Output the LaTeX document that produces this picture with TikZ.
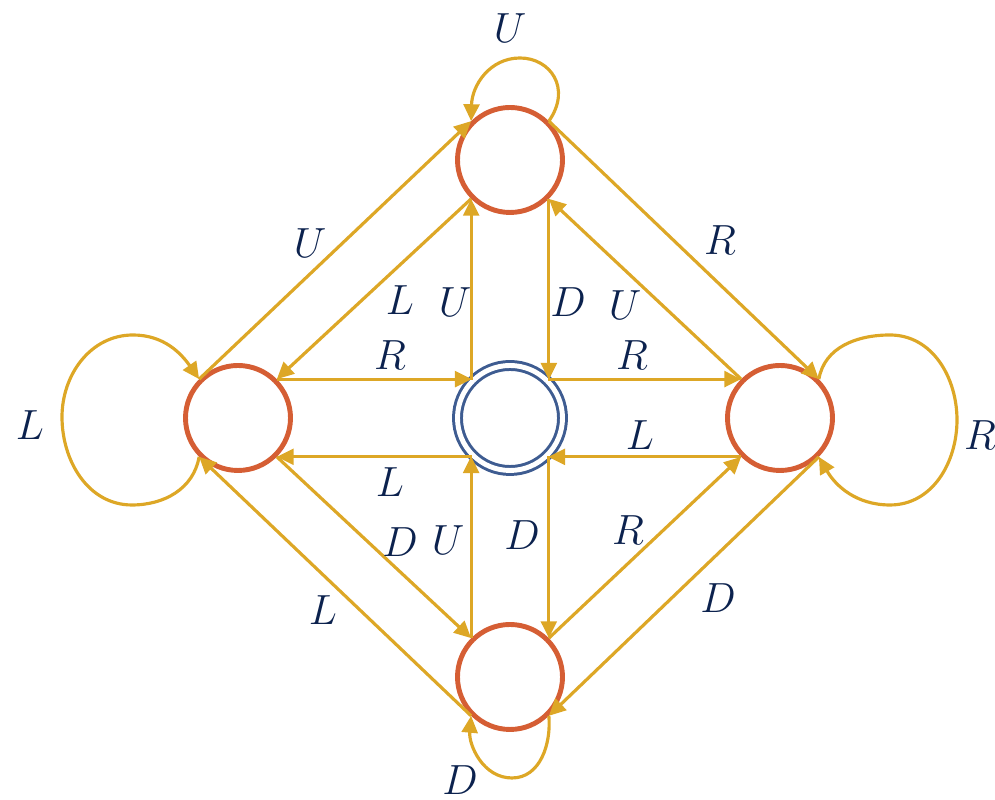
\documentclass[tikz,border=0pt]{standalone}
\usepackage{tikz}
\usetikzlibrary{arrows.meta}

\definecolor{gold}{RGB}{221,167,38}
\definecolor{rust}{RGB}{213,94,52}
\definecolor{slate}{RGB}{62,92,145}
\definecolor{navy}{RGB}{12,34,78}

\begin{document}
\begin{tikzpicture}[
  state/.style={circle, draw=rust, line width=1.4pt, minimum size=1.05cm, inner sep=0pt},
  start/.style={circle, draw=slate, line width=0.85pt, double, double distance=1.4pt, minimum size=1.05cm, inner sep=0pt},
  trans/.style={draw=gold, line width=0.9pt, -{Triangle[length=4.8pt, width=4.5pt]}},
  lbl/.style={text=navy, font=\fontsize{13}{15}\selectfont, inner sep=1pt}
]
  \useasboundingbox (0,0) rectangle (9.95,8);
  % states
  \node[state] (T) at (5.10,6.40) {};
  \node[state] (L) at (2.38,3.82) {};
  \node[state] (R) at (7.80,3.82) {};
  \node[state] (B) at (5.10,1.23) {};
  \node[start] (C) at (5.10,3.82) {};

  % outer square
  \draw[trans] (L.north west) -- (T.north west);
  \draw[trans] (T.north east) -- (R.north east);
  \draw[trans] (R.south east) -- (B.south east);
  \draw[trans] (B.south west) -- (L.south west);
  % inner square
  \draw[trans] (T.south west) -- (L.north east);
  \draw[trans] (R.north west) -- (T.south east);
  \draw[trans] (L.south east) -- (B.north west);
  \draw[trans] (B.north east) -- (R.south west);
  % centre
  \draw[trans] (T.south west |- C.north west) -- (T.south west);
  \draw[trans] (T.south east) -- (T.south east |- C.north east);
  \draw[trans] (L.north east) -- (C.north west |- L.north east);
  \draw[trans] (C.north east |- R.north west) -- (R.north west);
  \draw[trans] (R.south west) -- (C.south east |- R.south west);
  \draw[trans] (C.south west |- L.south east) -- (L.south east);
  \draw[trans] (B.north east |- C.south east) -- (B.north east);
  \draw[trans] (B.north west) -- (B.north west |- C.south west);
  % self loops
  \draw[trans] (T.north east) .. controls (5.72,7.12) and (5.50,7.42) .. (5.20,7.42)
                              .. controls (4.90,7.42) and (4.72,7.15) .. (T.north west);
  \draw[trans] (L.south west) to[out=-100, in=0] (1.32,2.95) to[out=180, in=-90] (0.62,3.83)
                              to[out=90, in=180] (1.33,4.65) to[out=0, in=125] (L.north west);
  \draw[trans] (R.north east) to[out=80, in=180] (8.90,4.65) to[out=0, in=90] (9.57,3.80)
                              to[out=-90, in=0] (8.90,2.95) to[out=180, in=-60] (R.south east);
  \draw[trans] (B.south east) to[out=-85, in=0] (5.12,0.22) to[out=180, in=-95] (B.south west);

  % labels
  \node[lbl] (lt) at (5.10,7.72) {$U$};
  \node[lbl] (l1) at (3.10,5.57) {$U$};
  \node[lbl] (l2) at (7.20,5.60) {$R$};
  \node[lbl] (l3) at (4.00,5.00) {$L$};
  \node[lbl] (l4) at (4.55,4.98) {$U$};
  \node[lbl] (l5) at (5.68,4.98) {$D$};
  \node[lbl] (l6) at (6.25,4.95) {$U$};
  \node[lbl] (l7) at (3.90,4.45) {$R$};
  \node[lbl] (l8) at (6.32,4.45) {$R$};
  \node[lbl] (ll) at (0.30,3.75) {$L$};
  \node[lbl] (lr) at (9.80,3.65) {$R$};
  \node[lbl] (l9) at (6.40,3.65) {$L$};
  \node[lbl] (l10) at (3.90,3.18) {$L$};
  \node[lbl] (l11) at (4.00,2.58) {$D$};
  \node[lbl] (l12) at (4.48,2.60) {$U$};
  \node[lbl] (l13) at (5.22,2.65) {$D$};
  \node[lbl] (l14) at (6.28,2.70) {$R$};
  \node[lbl] (l15) at (3.23,1.90) {$L$};
  \node[lbl] (l16) at (7.18,2.02) {$D$};
  \node[lbl] (lb) at (4.60,0.20) {$D$};
\end{tikzpicture}
\end{document}
